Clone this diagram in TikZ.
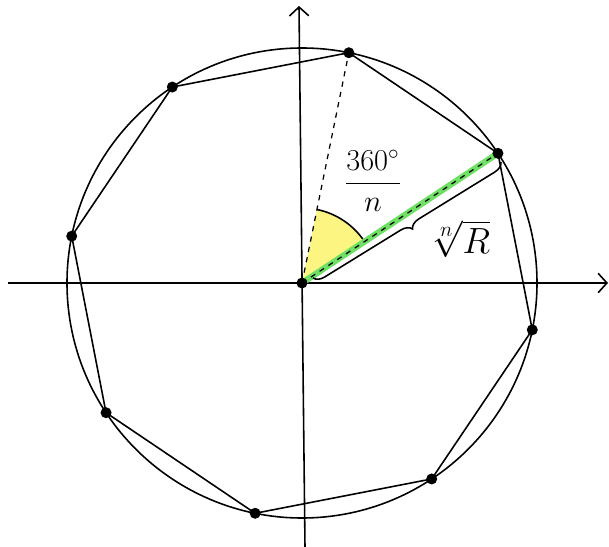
\documentclass[tikz,border=0pt]{standalone}
\usepackage{amsmath}
\usetikzlibrary{arrows.meta,decorations.pathreplacing}
\definecolor{hlgreen}{RGB}{110,225,100}
\definecolor{hlyellow}{RGB}{253,245,130}
\tikzset{
  dot/.style={circle, fill=black, inner sep=0pt, minimum size=2.2mm},
  axis/.style={line width=0.9pt, ->},
  rim/.style={line width=0.9pt},
  >={Straight Barb[length=5pt,width=11pt]}
}
\begin{document}
\begin{tikzpicture}
\useasboundingbox (-6.04,-5.28) rectangle (6.14,5.66);
% axes
\coordinate (xl) at (-5.88,0);
\coordinate (xr) at (6.12,0);
\coordinate (yb) at (0.06,-5.28);
\coordinate (yt) at (-0.06,5.54);
\draw[axis] (xl) -- (xr);
\draw[axis] (yb) -- (yt);
% circle and the n vertices
\draw[rim] (0,0) circle (4.7);
\coordinate (O) at (0,0);
\foreach \i in {1,...,8}
  \coordinate (v\i) at ({78.5-45*(\i-1)}:4.7);
\foreach \i [evaluate=\i as \j using {int(mod(\i,8)+1)}] in {1,...,8}
  \draw[rim] (v\i) -- (v\j);
% angle between two neighbours
\fill[hlyellow] (O) -- (33.5:1.5) arc[start angle=33.5, end angle=78.5, radius=1.5] -- cycle;
\draw[line width=0.9pt] (33.5:1.5) arc[start angle=33.5, end angle=78.5, radius=1.5];
\draw[hlgreen, line width=3.5pt] (O) -- (v2);
\draw[dashed, line width=0.7pt] (O) -- (v1);
\draw[dashed, line width=0.7pt] (O) -- (v2);
\node[font=\LARGE] (ang) at (1.42,2.04) {$\dfrac{360^\circ}{n}$};
% radius brace
\coordinate (b1) at (0.22,0.10);
\coordinate (b2) at (3.98,2.42);
\draw[line width=0.9pt, decorate, decoration={brace, mirror, amplitude=6pt}] (b1) -- (b2);
\node[font=\huge, inner sep=1pt] (rad) at (3.16,0.88) {$\sqrt[n]{R}$};
% dots on top
\node[dot] (o) at (O) {};
\foreach \i in {1,...,8}
  \node[dot] (d\i) at (v\i) {};
\end{tikzpicture}
\end{document}
